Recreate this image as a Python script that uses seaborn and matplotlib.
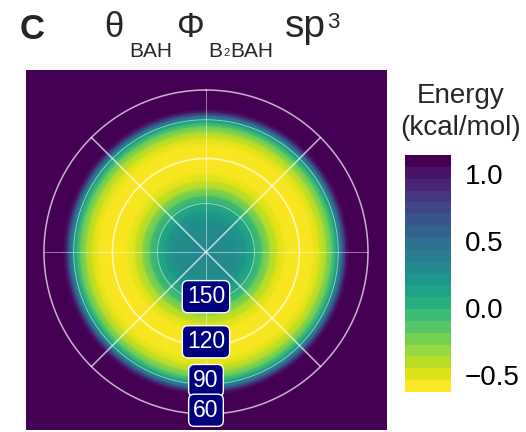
import numpy as np
import matplotlib
matplotlib.use("Agg")
import matplotlib.pyplot as plt
from matplotlib.colors import Normalize, ListedColormap
import seaborn as sns

# ---- data ----
theta_deg = [180, 170, 160, 155, 150, 145, 140, 135, 130, 120, 110, 105,
             100, 95, 92, 89, 86, 83, 80, 75, 60, 30, 0]
energy = [0.32, 0.30, 0.25, 0.18, 0.05, -0.15, -0.38, -0.52, -0.60, -0.63,
          -0.60, -0.52, -0.38, -0.15, 0.05, 0.30, 0.60, 1.00, 1.40, 2.00,
          3.50, 5.0, 6.0]
ring_labels = [150, 120, 90, 60]
major_rings = [120, 60]
minor_rings = [150, 90]
cbar_ticks = [1.0, 0.5, 0.0, -0.5]
cbar_ticklabels = ['1.0', '0.5', '0.0', '\u22120.5']
vmin, vmax = -0.63, 1.14

sns.set_theme(style="white")
plt.rcParams['font.family'] = ['Liberation Sans', 'DejaVu Sans']

cmap = sns.color_palette("viridis_r", as_cmap=True)


def lam(theta):
    a = np.radians(180.0 - np.asarray(theta, dtype=float))
    return 2.0 * np.sin(a / 2.0)


W, H = 526, 432
fig = plt.figure(figsize=(W / 100, H / 100), dpi=100)
ax = fig.add_axes([26 / W, 1 - 430 / H, 361 / W, 360 / H])
ax.set_facecolor('#440154')

phi = np.linspace(0, 2 * np.pi, 361)
R = lam(theta_deg)
P, RR = np.meshgrid(phi, R)
X = RR * np.sin(P)
Y = RR * np.cos(P)
Z = np.tile(np.array(energy)[:, None], (1, len(phi)))
ax.pcolormesh(X, Y, Z, shading='gouraud', cmap=cmap, vmin=vmin, vmax=vmax,
              rasterized=True)

rmax = lam(60)
for t in major_rings:
    r = lam(t)
    ax.plot(r * np.sin(phi), r * np.cos(phi), color='white', alpha=0.7, lw=1.1)
for t in minor_rings:
    r = lam(t)
    ax.plot(r * np.sin(phi), r * np.cos(phi), color='white', alpha=0.55, lw=0.6)
for ang in [45, 135, 225, 315]:
    a = np.radians(ang)
    ax.plot([0, rmax * np.sin(a)], [0, rmax * np.cos(a)], color='white',
            alpha=0.7, lw=1.1)
for ang in [0, 90, 180, 270]:
    a = np.radians(ang)
    ax.plot([0, rmax * np.sin(a)], [0, rmax * np.cos(a)], color='white',
            alpha=0.55, lw=0.6)

for t in ring_labels:
    r = lam(t)
    ax.text(0, -(r - 0.04), str(t), ha='center', va='center', color='white',
            fontsize=16.5, zorder=5,
            bbox=dict(boxstyle='round,pad=0.2,rounding_size=0.25',
                      fc='#00007f', ec='white', lw=1.0))

ax.set_xlim(-1.924, 1.935)
ax.set_ylim(-1.903, 1.946)
ax.set_xticks([])
ax.set_yticks([])
for s in ax.spines.values():
    s.set_visible(False)

# colorbar
cax = fig.add_axes([405 / W, 1 - 392 / H, 46 / W, 237 / H])
binned = ListedColormap(cmap(np.linspace(0, 1, 20)))
sm = matplotlib.cm.ScalarMappable(norm=Normalize(vmin, vmax), cmap=binned)
cb = fig.colorbar(sm, cax=cax, ticks=cbar_ticks)
cb.outline.set_visible(False)
cb.ax.set_yticklabels(cbar_ticklabels)
cax.tick_params(axis='y', direction='in', length=6, width=1, colors='white',
                labelcolor='black', left=True, right=True, labelsize=20, pad=10)
fig.text(461 / W, 1 - 103 / H, 'Energy', ha='center', va='baseline', fontsize=20)
fig.text(461 / W, 1 - 135 / H, '(kcal/mol)', ha='center', va='baseline', fontsize=20)

# titles: pieces laid out one after another
fig.text(20 / W, 1 - 39 / H, 'C', fontsize=25, fontweight='bold', va='baseline')

renderer = fig.canvas.get_renderer()
pieces = [  # text, size, baseline px, gap before px
    ('θ', 25, 37, 0),
    ('BAH', 15, 57, 6),
    ('Φ', 25, 37, 5),
    ('B', 15, 57, 3),
    ('2', 8, 56, 1),
    ('BAH', 15, 57, 1),
    ('sp', 28, 37, 12),
    ('3', 16, 28, 1),
]
x = 104.0
for s, size, yb, gap in pieces:
    x += gap
    t = fig.text(x / W, 1 - yb / H, s, fontsize=size, va='baseline', ha='left')
    bb = t.get_window_extent(renderer)
    x += bb.width

fig.savefig('out.png', dpi=100)
